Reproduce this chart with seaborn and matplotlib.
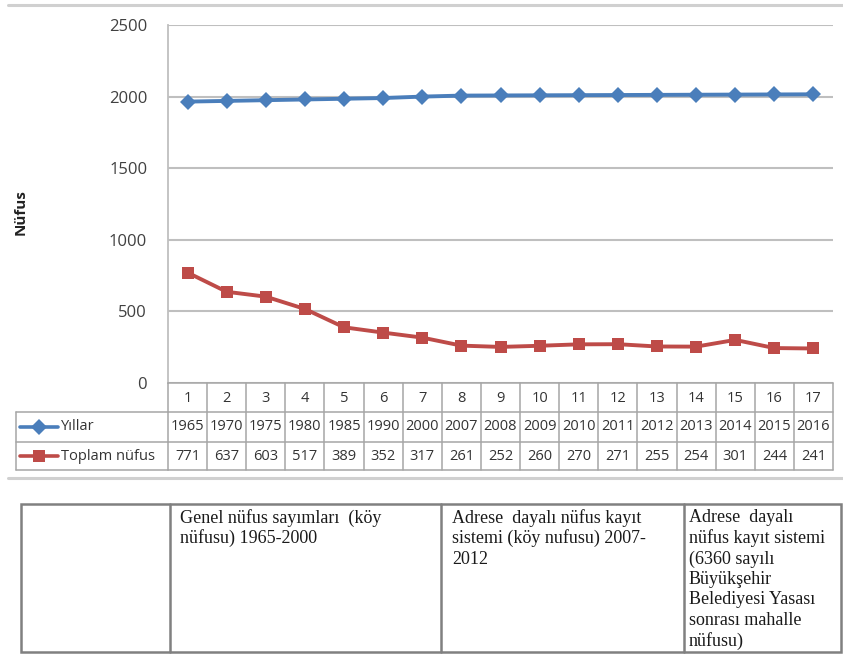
import matplotlib
matplotlib.use("Agg")
import matplotlib.pyplot as plt
import matplotlib.transforms as mtransforms
from matplotlib.lines import Line2D
from matplotlib.patches import Rectangle
import seaborn as sns
import pandas as pd

# ---------------- data ----------------
categories = list(range(1, 18))
years = [1965, 1970, 1975, 1980, 1985, 1990, 2000, 2007, 2008, 2009,
         2010, 2011, 2012, 2013, 2014, 2015, 2016]
total_pop = [771, 637, 603, 517, 389, 352, 317, 261, 252, 260,
             270, 271, 255, 254, 301, 244, 241]
series_names = ["Yıllar", "Toplam nüfus"]
y_ticks = [0, 500, 1000, 1500, 2000, 2500]
y_label = "Nüfus"
note_col2 = ["Genel nüfus sayımları  (köy", "nüfusu) 1965-2000"]
note_col3 = ["Adrese  dayalı nüfus kayıt", "sistemi (köy nufusu) 2007-", "2012"]
note_col4 = ["Adrese  dayalı", "nüfus kayıt sistemi", "(6360 sayılı", "Büyükşehir",
             "Belediyesi Yasası", "sonrası mahalle", "nüfusu)"]

colors = {"Yıllar": "#4A7EBB", "Toplam nüfus": "#BE4B48"}
markers = {"Yıllar": "D", "Toplam nüfus": "s"}

# ---------------- figure ----------------
sns.set_theme(style="white")
plt.rcParams['font.family'] = ['Open Sans', 'DejaVu Sans']

W, H = 843, 655
fig = plt.figure(figsize=(W / 100, H / 100), dpi=100)
fig.patch.set_facecolor("white")


def fx(px):
    return px / W


def fy(py):
    return 1 - py / H


ax = fig.add_axes([fx(168), fy(383), fx(833) - fx(168), fy(25) - fy(383)])

df = pd.DataFrame({
    "x": categories * 2,
    "value": years + total_pop,
    "series": [s for s in series_names for _ in categories],
})

sns.lineplot(data=df, x="x", y="value", hue="series", style="series",
             palette=colors, markers=markers, dashes=False, linewidth=2.8,
             markersize=8.5, markeredgewidth=0, legend=False, ax=ax, zorder=3)

ax.set_xlim(0.5, 17.5)
ax.set_ylim(0, 2500)
ax.set_yticks(y_ticks)
ax.set_xticks([])
ax.set_xlabel("")
ax.set_ylabel("")
ax.grid(axis="y", color="#BFBFBF", linewidth=1.5)
ax.grid(axis="x", visible=False)
for side in ["top", "right", "bottom"]:
    ax.spines[side].set_visible(False)
ax.spines["left"].set_color("#BFBFBF")
ax.spines["left"].set_linewidth(1.3)
ax.tick_params(axis="y", length=0, pad=15, labelsize=12, labelcolor="#404040")

fig.text(fx(21), fy(212), y_label, rotation=90, fontsize=11, fontweight="bold",
         color="#222222", ha="center", va="center")

# ---------------- data table ----------------
bt = mtransforms.blended_transform_factory(ax.transData, fig.transFigure)
grid_c = "#A6A6A6"
row_lines = [383, 412, 442, 470]
row_centers = [398, 427, 456]

for xb in [c - 0.5 for c in categories] + [categories[-1] + 0.5]:
    fig.add_artist(Line2D([xb, xb], [fy(383), fy(470)], transform=bt,
                          color=grid_c, lw=1.1))
for yl in row_lines:
    fig.add_artist(Line2D([0.5, 17.5], [fy(yl), fy(yl)], transform=bt,
                          color=grid_c, lw=1.1))
for yl in row_lines[1:]:
    fig.add_artist(Line2D([fx(16), fx(168)], [fy(yl), fy(yl)],
                          transform=fig.transFigure, color=grid_c, lw=1.1))
fig.add_artist(Line2D([fx(16), fx(16)], [fy(412), fy(470)],
                      transform=fig.transFigure, color=grid_c, lw=1.1))

tc = "#333333"
for c, yv, tv in zip(categories, years, total_pop):
    fig.text(c, fy(row_centers[0]), str(c), transform=bt, ha="center",
             va="center", fontsize=10.5, color=tc)
    fig.text(c, fy(row_centers[1]), str(yv), transform=bt, ha="center",
             va="center", fontsize=10.5, color=tc)
    fig.text(c, fy(row_centers[2]), str(tv), transform=bt, ha="center",
             va="center", fontsize=10.5, color=tc)

for name, yc in zip(series_names, row_centers[1:]):
    fig.add_artist(Line2D([fx(20), fx(39), fx(58)], [fy(yc)] * 3,
                          transform=fig.transFigure, color=colors[name], lw=2.6,
                          marker=markers[name], markevery=[1],
                          markersize=8 if name == "Yıllar" else 9,
                          markeredgewidth=0))
    fig.text(fx(61), fy(yc), name, ha="left", va="center", fontsize=10.5, color=tc)

# ---------------- separators ----------------
for yl in [5, 478]:
    fig.add_artist(Line2D([fx(8), fx(843)], [fy(yl), fy(yl)],
                          transform=fig.transFigure, color="#D0D0D0", lw=2.2))

# ---------------- bottom note table ----------------
bc = "#808080"
fig.add_artist(Rectangle((fx(21), fy(652)), fx(841) - fx(21), fy(504) - fy(652),
                         transform=fig.transFigure, fill=False, edgecolor=bc, lw=1.8))
for xd in [170, 441, 684]:
    fig.add_artist(Line2D([fx(xd), fx(xd)], [fy(504), fy(652)],
                          transform=fig.transFigure, color=bc, lw=1.8))

serif = ["Liberation Serif", "DejaVu Serif"]
line_y = [518, 538.5, 559, 579.5, 600, 620.5, 641]
for lines, x0 in [(note_col2, 180), (note_col3, 452), (note_col4, 689)]:
    for ln, yy in zip(lines, line_y):
        fig.text(fx(x0), fy(yy), ln, family=serif, fontsize=13, color="#1A1A1A",
                 ha="left", va="center")

fig.savefig("out.png", dpi=100, facecolor="white")
